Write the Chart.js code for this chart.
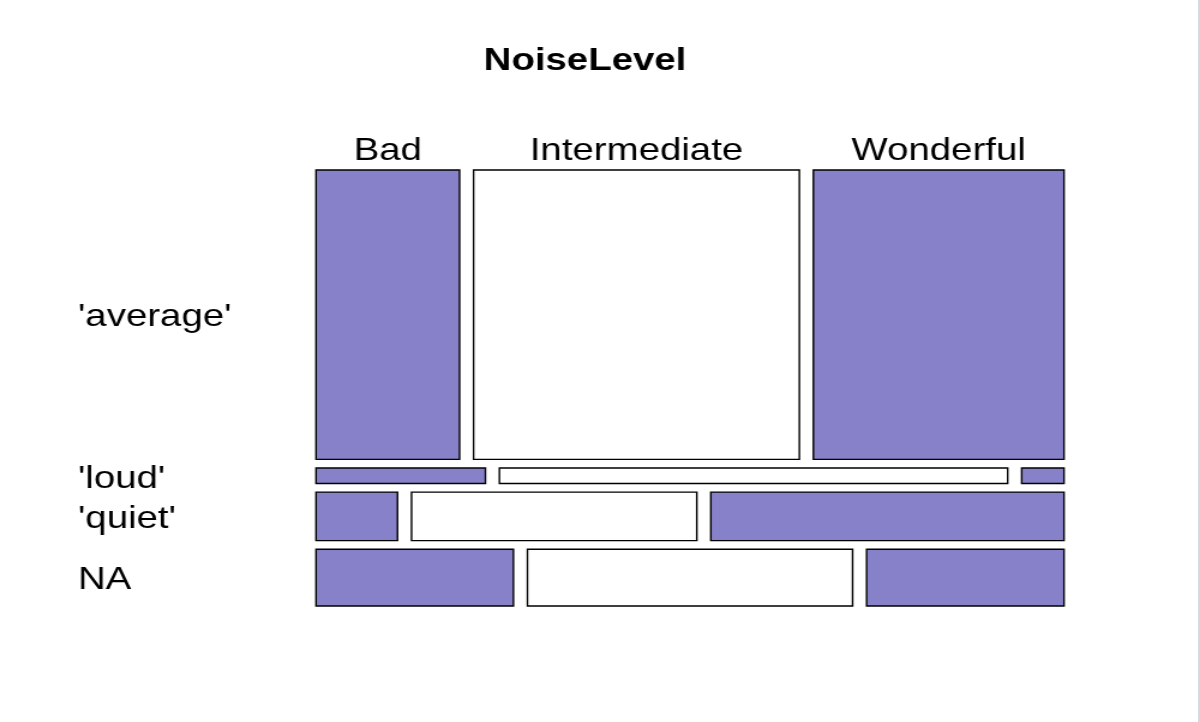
<!DOCTYPE html>
<html>
<head>
<meta charset="utf-8">
<script src="https://cdn.jsdelivr.net/npm/chart.js@4.4.1/dist/chart.umd.min.js"></script>
<style>
  html, body { margin: 0; padding: 0; background: #ffffff; overflow: hidden; }
  #wrap { position: relative; width: 1200px; height: 722px; }
  #c { display: block; width: 1200px; height: 722px; }
  #edge { position: absolute; right: 0; top: 0; width: 2px; height: 722px; background: #d4d9de; }
</style>
</head>
<body>
<div id="wrap">
  <canvas id="c" width="1000" height="722" style="width:1200px;height:722px"></canvas>
  <div id="edge"></div>
</div>
<script>
// ---- data (counts read from the mosaic) ----
const noiseLevels = ["'average'", "'loud'", "'quiet'", "NA"];
const ratings = ["Bad", "Intermediate", "Wonderful"];
const badCounts = [63, 4, 6, 17];
const intermediateCounts = [143, 12, 21, 28];
const wonderfulCounts = [110, 1, 26, 17];
const tileColors = ["#8681c9", "#ffffff", "#8681c9"];

// ---- build mosaic tiles in data units ----
const FONT = '"Liberation Sans", Arial, Helvetica, sans-serif';
const GAP_X = 14 / 720;
const GAP_Y = 8.6 / 410;
const countsByRating = [badCounts, intermediateCounts, wonderfulCounts];
const rowTotals = noiseLevels.map((_, r) => countsByRating.reduce((s, a) => s + a[r], 0));
const grandTotal = rowTotals.reduce((a, b) => a + b, 0);

const datasets = [];
const rowCenters = [];
const firstRowCenters = [];
let yCursor = 0;
noiseLevels.forEach((level, r) => {
  const h = rowTotals[r] / grandTotal;
  const y0 = yCursor, y1 = yCursor + h;
  rowCenters.push((y0 + y1) / 2);
  let xCursor = 0;
  ratings.forEach((rating, c) => {
    const w = countsByRating[c][r] / rowTotals[r];
    const x0 = xCursor, x1 = xCursor + w;
    if (r === 0) firstRowCenters.push((x0 + x1) / 2);
    datasets.push({
      label: level + ' / ' + rating,
      data: [{x: x0, y: y0}, {x: x1, y: y0}, {x: x1, y: y1}, {x: x0, y: y1}, {x: x0, y: y0}],
      fill: 'shape',
      backgroundColor: tileColors[c],
      borderColor: '#000000',
      borderWidth: 1.4,
      borderCapStyle: 'square',
      pointRadius: 0,
      pointHoverRadius: 0,
      tension: 0,
      clip: false
    });
    xCursor = x1 + GAP_X;
  });
  yCursor = y1 + GAP_Y;
});

// canvas is drawn 1000 wide and shown 1200 wide (horizontal stretch 1.2)
const SX = 1.2;
const TITLE_SIZE = 32;
const TITLE_PAD = 42;
new Chart(document.getElementById('c'), {
  type: 'line',
  data: { datasets },
  options: {
    responsive: false,
    animation: false,
    events: [],
    layout: { padding: { left: 78 / SX, right: 90, top: 0, bottom: 116 } },
    plugins: {
      legend: { display: false },
      tooltip: { enabled: false },
      title: {
        display: true,
        text: 'NoiseLevel',
        color: '#000000',
        font: { family: FONT, size: TITLE_SIZE, weight: 'bold' },
        padding: { top: TITLE_PAD, bottom: 0 }
      }
    },
    scales: {
      x: {
        type: 'linear',
        position: 'top',
        min: 0,
        max: 1 + 2 * GAP_X,
        grid: { display: false, drawTicks: false },
        border: { display: false },
        afterBuildTicks: s => { s.ticks = firstRowCenters.map(v => ({ value: v })); },
        afterFit: s => { s.height = 170 - TITLE_PAD - TITLE_SIZE * 1.2; },
        ticks: {
          autoSkip: false, maxRotation: 0, minRotation: 0, padding: 0,
          color: '#000000', font: { family: FONT, size: 32 },
          callback: (v, i) => ratings[i]
        }
      },
      y: {
        type: 'linear',
        position: 'left',
        reverse: true,
        min: 0,
        max: 1 + 3 * GAP_Y,
        grid: { display: false, drawTicks: false },
        border: { display: false },
        afterBuildTicks: s => { s.ticks = rowCenters.map(v => ({ value: v })); },
        afterFit: s => { s.width = 316 / SX - 78 / SX; },
        ticks: {
          autoSkip: false, crossAlign: 'far', padding: 0, labelOffset: 3,
          color: '#000000', font: { family: FONT, size: 32 },
          callback: (v, i) => noiseLevels[i]
        }
      },
      y2: {
        type: 'linear',
        position: 'right',
        display: true,
        grid: { display: false, drawTicks: false },
        border: { display: false },
        ticks: { display: false },
        afterFit: s => { s.width = 1000 - 90 - 1064 / SX; }
      }
    }
  }
});
</script>
</body>
</html>
